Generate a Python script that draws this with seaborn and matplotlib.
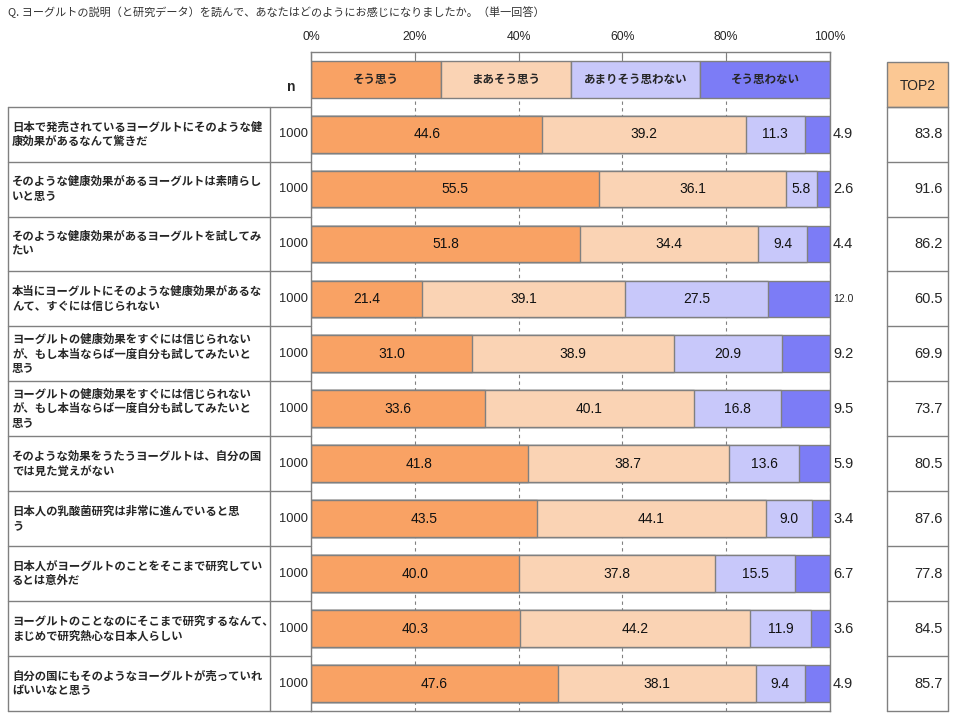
import numpy as np
import pandas as pd
import matplotlib
matplotlib.use("Agg")
import matplotlib.pyplot as plt
import matplotlib.transforms as transforms
from matplotlib.patches import Rectangle
import seaborn as sns

# data
labels = [
    "日本で発売されているヨーグルトにそのような健\n康効果があるなんて驚きだ",
    "そのような健康効果があるヨーグルトは素晴らし\nいと思う",
    "そのような健康効果があるヨーグルトを試してみ\nたい",
    "本当にヨーグルトにそのような健康効果があるな\nんて、すぐには信じられない",
    "ヨーグルトの健康効果をすぐには信じられない\nが、もし本当ならば一度自分も試してみたいと\n思う",
    "ヨーグルトの健康効果をすぐには信じられない\nが、もし本当ならば一度自分も試してみたいと\n思う",
    "そのような効果をうたうヨーグルトは、自分の国\nでは見た覚えがない",
    "日本人の乳酸菌研究は非常に進んでいると思\nう",
    "日本人がヨーグルトのことをそこまで研究してい\nるとは意外だ",
    "ヨーグルトのことなのにそこまで研究するなんて、\nまじめで研究熱心な日本人らしい",
    "自分の国にもそのようなヨーグルトが売っていれ\nばいいなと思う",
]
n_values = [1000] * 11
sou_omou = [44.6, 55.5, 51.8, 21.4, 31.0, 33.6, 41.8, 43.5, 40.0, 40.3, 47.6]
maa_sou = [39.2, 36.1, 34.4, 39.1, 38.9, 40.1, 38.7, 44.1, 37.8, 44.2, 38.1]
amari = [11.3, 5.8, 9.4, 27.5, 20.9, 16.8, 13.6, 9.0, 15.5, 11.9, 9.4]
omowanai = [4.9, 2.6, 4.4, 12.0, 9.2, 9.5, 5.9, 3.4, 6.7, 3.6, 4.9]
top2 = [83.8, 91.6, 86.2, 60.5, 69.9, 73.7, 80.5, 87.6, 77.8, 84.5, 85.7]
series_names = ["そう思う", "まあそう思う", "あまりそう思わない", "そう思わない"]
colors = ["#F9A264", "#FAD3B4", "#C8C8FA", "#7C7CF6"]
xticks = [0, 20, 40, 60, 80, 100]

jp = ["Noto Sans CJK JP", "DejaVu Sans"]
num = ["Liberation Sans", "DejaVu Sans"]
edge = "#808080"

sns.set_style("white")
plt.rcParams["font.family"] = jp

df = pd.DataFrame({"row": range(len(labels)), "s1": sou_omou, "s2": maa_sou,
                   "s3": amari, "s4": omowanai})
segs = ["s1", "s2", "s3", "s4"]
cum = df[segs].cumsum(axis=1)
cum["row"] = df["row"]

fig = plt.figure(figsize=(9.6, 7.19), dpi=100)
W, H = 960, 719
ax = fig.add_axes([311 / W, 1 - 711 / H, (830 - 311) / W, (711 - 51.7) / H])

# stacked bars: draw cumulative totals from the widest down
for k in range(3, -1, -1):
    sns.barplot(data=cum, x=segs[k], y="row", orient="h", color=colors[k],
                saturation=1, edgecolor=edge, linewidth=1, width=0.67, ax=ax)

# legend row drawn as a bar above the data
ax.barh([-1] * 4, [25] * 4, left=[0, 25, 50, 75], height=0.67,
        color=colors, edgecolor=edge, linewidth=1)
for i, name in enumerate(series_names):
    ax.text(12.5 + 25 * i, -1, name, ha="center", va="center",
            fontsize=8.3, fontweight="bold", family=jp)

# values inside bars
for i in range(len(labels)):
    vals = [sou_omou[i], maa_sou[i], amari[i]]
    left = 0
    for v in vals:
        ax.text(left + v / 2, i, f"{v:.1f}", ha="center", va="center",
                fontsize=10, family=num, color="#111111")
        left += v
    small = omowanai[i] >= 10
    ax.text(100.6, i, f"{omowanai[i]:.1f}", ha="left", va="center",
            fontsize=7.5 if small else 10.5, family=num, clip_on=False)

ax.set_xlim(0, 100)
ax.set_ylim(10.5, -1.5)
ax.set_xlabel("")
ax.set_ylabel("")
ax.set_yticks([])
ax.xaxis.tick_top()
ax.set_xticks(xticks)
ax.set_xticklabels([f"{t}%" for t in xticks], family=num, fontsize=8.8)
ax.tick_params(axis="x", direction="in", length=6.5, color=edge, pad=6)
ax.grid(axis="x", color=edge, linestyle=(0, (3, 3)), linewidth=0.8)
ax.set_axisbelow(True)
for s in ax.spines.values():
    s.set_color(edge)
    s.set_linewidth(1)
    s.set_visible(True)

# left table (labels and n)
trans = transforms.blended_transform_factory(fig.transFigure, ax.transData)
x0, x1, x2 = 8 / W, 270 / W, 311 / W
for k in range(len(labels) + 1):
    ax.plot([x0, x2], [k - 0.5, k - 0.5], transform=trans, color=edge,
            lw=1, clip_on=False)
for xv in (x0, x1):
    ax.plot([xv, xv], [-0.5, len(labels) - 0.5], transform=trans, color=edge,
            lw=1, clip_on=False)
for i, lab in enumerate(labels):
    ax.text(12 / W, i, lab, transform=trans, ha="left", va="center",
            fontsize=8.2, fontweight="bold", linespacing=1.15, family=jp)
    ax.text(293 / W, i, str(n_values[i]), transform=trans, ha="center",
            va="center", fontsize=9.3, family=num)
ax.text(291 / W, -0.85, "n", transform=trans, ha="center", va="center",
        fontsize=10, fontweight="bold", family=num)

# TOP2 table
t0, t1 = 887 / W, 948 / W
ax.add_patch(Rectangle((t0, -1.31), t1 - t0, 0.81, transform=trans,
                       facecolor="#FBC894", edgecolor=edge, lw=1, clip_on=False))
ax.text((t0 + t1) / 2, -0.88, "TOP2", transform=trans, ha="center",
        va="center", fontsize=10, family=num)
for k in range(len(labels) + 1):
    ax.plot([t0, t1], [k - 0.5, k - 0.5], transform=trans, color=edge,
            lw=1, clip_on=False)
for xv in (t0, t1):
    ax.plot([xv, xv], [-0.5, len(labels) - 0.5], transform=trans, color=edge,
            lw=1, clip_on=False)
for i, v in enumerate(top2):
    ax.text(943 / W, i, f"{v:.1f}", transform=trans, ha="right",
            va="center", fontsize=10.5, family=num)

fig.text(8 / W, 1 - 12 / H, "Q. ヨーグルトの説明（と研究データ）を読んで、あなたはどのようにお感じになりましたか。（単一回答）",
         ha="left", va="center", fontsize=8, family=jp, color="#333333")

fig.savefig("out.png", dpi=100)
